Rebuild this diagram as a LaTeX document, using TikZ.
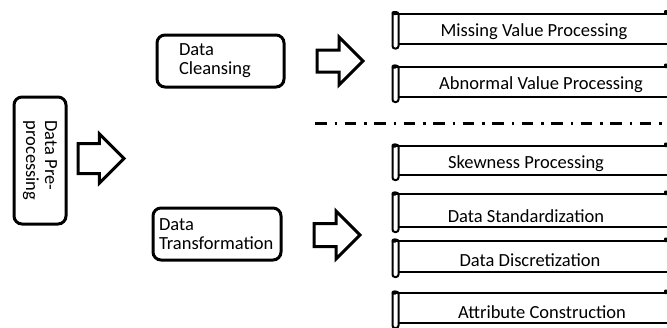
\documentclass[tikz,border=0pt]{standalone}
\usepackage{fontspec}
\setmainfont{Carlito}
\usetikzlibrary{shapes.arrows}

\tikzset{
  stagebox/.style = {draw, line width=3pt, rounded corners=8pt, minimum height=52pt, align=left},
  bigarrow/.style = {draw, line width=3pt, single arrow, single arrow head indent=0pt, inner xsep=0pt, minimum height=46pt, anchor=tail},
  scrollline/.style = {line width=2pt},
  itemtext/.style = {anchor=base, inner sep=0pt}
}

% scroll: name, top, bottom, text x, text baseline, text
\newcommand{\scrollitem}[6]{
  \draw[scrollline] (392.5,#2) -- (667,#2);
  \draw[scrollline] (398.5,#3) -- (667,#3);
  \draw[scrollline, rounded corners=2.5pt] (392.5,#2-1.5) rectangle (398.5,#3+5);
  \fill[rounded corners=1.5pt] (391.5,#2-2.5) rectangle (397,#2+1.5);
  \fill[rounded corners=1pt] (664,#2+1) rectangle (668,#2-3.5);
  \node[itemtext] (#1) at (#4,#5) {#6};
}

\begin{document}
\begin{tikzpicture}[x=1pt, y=-1pt, every node/.style={font=\fontsize{18.5}{19}\selectfont}]
          \useasboundingbox (0,0) rectangle (667,327);

          % stages
          \node[stagebox, rotate=-90, minimum width=127pt] (prep) at (40,160.5) {Data Pre-\\processing};
          \node[stagebox, minimum width=127pt, text width=83pt, inner xsep=22pt] (clean) at (220.5,61) {Data\\Cleansing};
          \node[stagebox, minimum width=128pt, text width=116pt, inner xsep=6pt] (trans) at (217,234) {Data\\Transformation};

          % block arrows
          \node[bigarrow, inner ysep=13.5pt, single arrow head extend=9.5pt] (arrowA) at (76.5,158.5) {};
          \node[bigarrow, inner ysep=9.5pt, single arrow head extend=13pt] (arrowB) at (315.5,61) {};
          \node[bigarrow, inner ysep=10pt, single arrow head extend=12.5pt] (arrowC) at (312.5,235) {};

          % cleansing steps
          \scrollitem{missing}{13.5}{43.5}{534}{36}{Missing Value Processing}
          \scrollitem{abnormal}{67}{97}{541}{89}{Abnormal Value Processing}

          \draw[line width=3pt, dash pattern=on 11.5pt off 8pt on 2.5pt off 7.5pt] (315,123.5) -- (667,123.5);

          % transformation steps
          \scrollitem{skew}{146}{175}{526}{168}{Skewness Processing}
          \scrollitem{standard}{194}{227}{526}{222}{Data Standardization}
          \scrollitem{discrete}{241}{272}{530}{266}{Data Discretization}
          \scrollitem{attribute}{293}{323}{542}{318}{Attribute Construction}
\end{tikzpicture}
\end{document}
